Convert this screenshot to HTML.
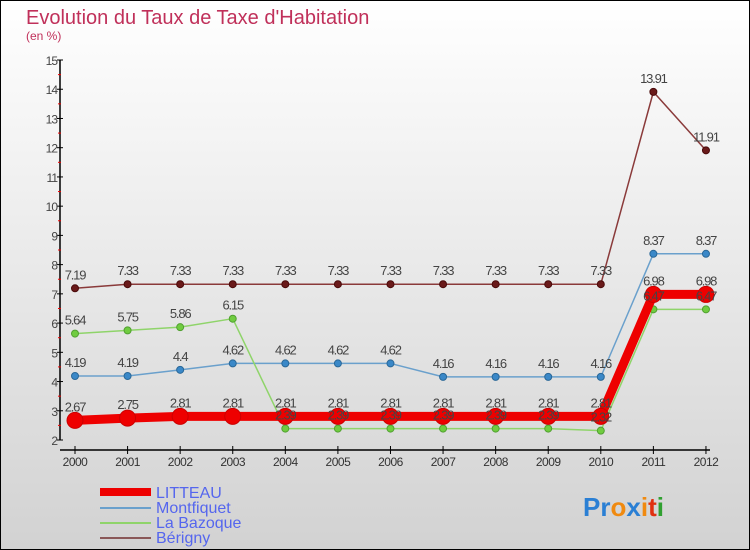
<!DOCTYPE html>
<html><head><meta charset="utf-8"><style>
body{margin:0;width:750px;height:550px;overflow:hidden}
svg{display:block;font-family:"Liberation Sans",sans-serif}
</style></head><body>
<svg id="c" width="750" height="550" xmlns="http://www.w3.org/2000/svg">
<defs><linearGradient id="bg" x1="0" y1="0" x2="0" y2="1"><stop offset="0" stop-color="#ffffff"/><stop offset="1" stop-color="#d2d2d2"/></linearGradient></defs>
<rect x="0.5" y="0.5" width="749" height="549" fill="url(#bg)" stroke="#000"/>
<text x="26" y="24" font-size="20" fill="#c0305a">Evolution du Taux de Taxe d'Habitation</text>
<text x="26" y="40" font-size="12" fill="#c0305a">(en %)</text>
<g id="axes"></g><g id="series"></g><g id="labels"></g>
<g>
<rect x="100" y="488" width="51" height="8" fill="#ee0000"/>
<text x="156" y="498" font-size="16" fill="#5566ee">LITTEAU</text>
<line x1="100" y1="508" x2="151" y2="508" stroke="#6aa0cc" stroke-width="2"/>
<text x="156" y="513" font-size="16" fill="#5566ee">Montfiquet</text>
<line x1="100" y1="523" x2="151" y2="523" stroke="#8fd46a" stroke-width="2"/>
<text x="156" y="528" font-size="16" fill="#5566ee">La Bazoque</text>
<line x1="100" y1="538" x2="151" y2="538" stroke="#8a5858" stroke-width="2"/>
<text x="156" y="543" font-size="16" fill="#5566ee">Bérigny</text>
</g>
<text x="583" y="516" font-size="26" font-weight="bold"><tspan fill="#2a7fd4">Pr</tspan><tspan fill="#f08a10">o</tspan><tspan fill="#2a7fd4">x</tspan><tspan fill="#f08a10">i</tspan><tspan fill="#e03010">t</tspan><tspan fill="#30a030">i</tspan></text>
</svg>
<script>
const years=[2000,2001,2002,2003,2004,2005,2006,2007,2008,2009,2010,2011,2012];
const litteau=[2.67,2.75,2.81,2.81,2.81,2.81,2.81,2.81,2.81,2.81,2.81,6.98,6.98];
const montfiquet=[4.19,4.19,4.4,4.62,4.62,4.62,4.62,4.16,4.16,4.16,4.16,8.37,8.37];
const bazoque=[5.64,5.75,5.86,6.15,2.39,2.39,2.39,2.39,2.39,2.39,2.32,6.47,6.47];
const berigny=[7.19,7.33,7.33,7.33,7.33,7.33,7.33,7.33,7.33,7.33,7.33,13.91,11.91];
const yTicks=[2,3,4,5,6,7,8,9,10,11,12,13,14,15];
const NS="http://www.w3.org/2000/svg";
const X=i=>75+i*52.58, Y=v=>440-(v-2)*29.23;
function mk(t,a,p){const e=document.createElementNS(NS,t);for(const k in a)e.setAttribute(k,a[k]);p.appendChild(e);return e;}
const ax=document.getElementById('axes');
let l=mk('line',{x1:60,y1:Y(15),x2:60,y2:440,stroke:'#000','stroke-width':1.5},ax);


l=mk('line',{x1:60,y1:450,x2:710,y2:450,stroke:'#000','stroke-width':1.5},ax);


yTicks.forEach(v=>{
 mk('line',{x1:57,y1:Y(v),x2:63,y2:Y(v),stroke:'#000'},ax);
 if(v<15)mk('line',{x1:58,y1:Y(v+0.5),x2:61,y2:Y(v+0.5),stroke:'#e00'},ax);
 const t=mk('text',{x:57,y:Y(v)+5,'text-anchor':'end','font-size':12,fill:'#444','letter-spacing':'-1'},ax);
 t.textContent=v;
 
 
});
years.forEach((y,i)=>{
 mk('line',{x1:X(i),y1:446,x2:X(i),y2:454,stroke:'#000'},ax);
 const t=mk('text',{x:X(i),y:466,'text-anchor':'middle','font-size':12,fill:'#333','letter-spacing':'-0.5'},ax);
 t.textContent=y;
 
 
});
const sg=document.getElementById('series');
const lg=document.getElementById('labels');
function series(vals,name,color,w,r,dot,dotStroke){
 const g=mk('g',{},sg);
 
 
 const p=mk('polyline',{points:vals.map((v,i)=>X(i)+','+Y(v)).join(' '),fill:'none',stroke:color,'stroke-width':w,'stroke-linejoin':'round'},g);
 
 
 vals.forEach((v,i)=>{
  const c=mk('circle',{cx:X(i),cy:Y(v),r:r,fill:dot,stroke:dotStroke,'stroke-width':1},g);
  
  
  const t=mk('text',{x:X(i),y:Y(v)-9,'text-anchor':'middle','font-size':13,fill:'#444','letter-spacing':'-1.2'},lg);
  t.textContent=String(v);
  
  
 });
}
series(berigny,'berigny','#8a3a3a',1.5,3.5,'#6a1a1a','#4a0a0a');
series(montfiquet,'montfiquet','#6aa0cc',1.5,3.5,'#3a88c8','#2a6898');
series(bazoque,'la-bazoque','#8fd46a',1.5,3.5,'#70cc40','#50a030');
series(litteau,'litteau','#ee0000',9,8,'#ee0000','#cc0000');
</script>
</body></html>
